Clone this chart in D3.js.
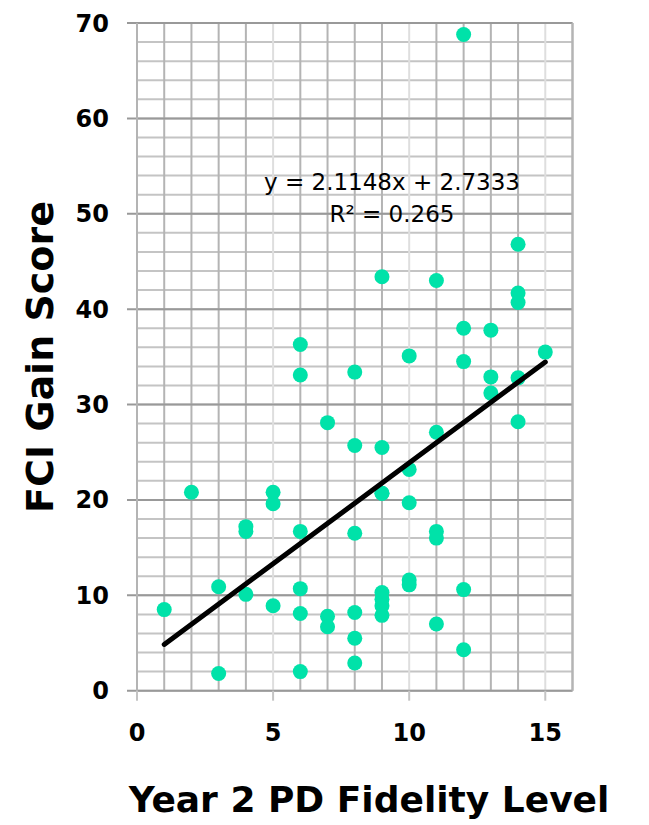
<!doctype html>
<head>
<style>
  body { margin: 0; background: #fff; }
  svg text { font-family: "DejaVu Sans", Verdana, sans-serif; }
</style>
<script src="https://cdnjs.cloudflare.com/ajax/libs/d3/7.8.5/d3.min.js"></script>
</head>
<body>
<script>
// fidelity level (x) and FCI gain score (y)
var fidelity = [1, 2, 3, 3, 4, 4, 4, 5, 5, 5,
  6, 6, 6, 6, 6, 6, 7, 7, 7,
  8, 8, 8, 8, 8, 8,
  9, 9, 9, 9, 9, 9, 9, 9,
  10, 10, 10, 10, 10,
  11, 11, 11, 11, 11,
  12, 12, 12, 12, 12,
  13, 13, 13,
  14, 14, 14, 14, 14,
  15];
var gain = [8.5, 20.8, 10.9, 1.8, 17.2, 16.7, 10.1, 20.8, 19.6, 8.9,
  36.3, 33.1, 16.7, 10.7, 8.1, 2.0, 28.1, 7.8, 6.7,
  33.4, 25.7, 16.5, 8.2, 5.5, 2.9,
  43.4, 25.5, 20.7, 10.3, 9.6, 8.9, 7.9, 20.7,
  35.1, 23.2, 19.7, 11.6, 11.1,
  43.0, 27.1, 16.7, 16.0, 7.0,
  68.8, 38.0, 34.5, 10.6, 4.3,
  37.8, 32.9, 31.2,
  46.8, 41.7, 40.7, 32.8, 28.2,
  35.5];
var xTicks = [0, 5, 10, 15];
var yTicks = [0, 10, 20, 30, 40, 50, 60, 70];
var slope = 2.1148, intercept = 2.7333;
var eqText = "y = 2.1148x + 2.7333";
var r2Text = "R\u00b2 = 0.265";
var xTitle = "Year 2 PD Fidelity Level";
var yTitle = "FCI Gain Score";

var W = 649, H = 825;
var pLeft = 137, pRight = 572.5, pTop = 23, pBottom = 690.7;

var svg = d3.select("body").append("svg").attr("width", W).attr("height", H);

var x = d3.scaleLinear().domain([0, 16]).range([pLeft, pRight]);
var y = d3.scaleLinear().domain([0, 70]).range([pBottom, pTop]);

// grid: minor horizontal every 2, major every 10, vertical every 1
var g = svg.append("g");
g.selectAll(".hmin").data(d3.range(0, 71, 2)).enter().append("line")
  .attr("x1", pLeft).attr("x2", pRight)
  .attr("y1", d => y(d)).attr("y2", d => y(d))
  .attr("stroke", "#c4c4c4").attr("stroke-width", 2);
g.selectAll(".vl").data(d3.range(0, 17)).enter().append("line")
  .attr("x1", d => x(d)).attr("x2", d => x(d))
  .attr("y1", pTop).attr("y2", pBottom)
  .attr("stroke", d => (d % 5 == 0 && d > 0 && d < 16) ? "#dedede" : "#b4b4b4")
  .attr("stroke-width", 2);
g.selectAll(".hmaj").data(yTicks).enter().append("line")
  .attr("x1", pLeft - 10).attr("x2", pRight)
  .attr("y1", d => y(d)).attr("y2", d => y(d))
  .attr("stroke", "#999").attr("stroke-width", 2);
// plot frame
g.append("line").attr("x1", pRight).attr("x2", pRight).attr("y1", pTop).attr("y2", pBottom)
  .attr("stroke", "#b4b4b4").attr("stroke-width", 2);
g.append("line").attr("x1", pLeft).attr("x2", pLeft).attr("y1", pTop).attr("y2", pBottom)
  .attr("stroke", "#b4b4b4").attr("stroke-width", 2);
g.selectAll(".xt").data(xTicks).enter().append("line")
  .attr("x1", d => x(d)).attr("x2", d => x(d))
  .attr("y1", pBottom).attr("y2", pBottom + 10)
  .attr("stroke", "#c4c4c4").attr("stroke-width", 2);

// axes labels
svg.selectAll(".yl").data(yTicks).enter().append("text")
  .attr("x", 109).attr("y", d => y(d) + 8.5)
  .attr("text-anchor", "end")
  .style("font-weight", "bold").style("font-size", "24px")
  .text(d => d);
svg.selectAll(".xl").data(xTicks).enter().append("text")
  .attr("x", d => x(d)).attr("y", 741)
  .attr("text-anchor", "middle")
  .style("font-weight", "bold").style("font-size", "24px")
  .text(d => d);

// points
svg.selectAll(".pt").data(fidelity).enter().append("circle")
  .attr("cx", d => x(d))
  .attr("cy", (d, i) => y(gain[i]))
  .attr("r", 7.5)
  .attr("fill", "#00e2a9");

// trendline
svg.append("line")
  .attr("x1", x(1)).attr("y1", y(slope * 1 + intercept))
  .attr("x2", x(15)).attr("y2", y(slope * 15 + intercept))
  .attr("stroke", "#000").attr("stroke-width", 5).attr("stroke-linecap", "round");

// equation
svg.append("text").attr("x", 392).attr("y", 190)
  .attr("text-anchor", "middle").style("font-size", "23px")
  .text(eqText);
svg.append("text").attr("x", 392).attr("y", 222)
  .attr("text-anchor", "middle").style("font-size", "23px")
  .text(r2Text);

// titles
svg.append("text")
  .attr("transform", "translate(53,357) rotate(-90)")
  .attr("text-anchor", "middle")
  .style("font-weight", "bold").style("font-size", "38px")
  .text(yTitle);
svg.append("text").attr("x", 369).attr("y", 812)
  .attr("text-anchor", "middle")
  .style("font-weight", "bold").style("font-size", "36px")
  .text(xTitle);
</script>
</body>
